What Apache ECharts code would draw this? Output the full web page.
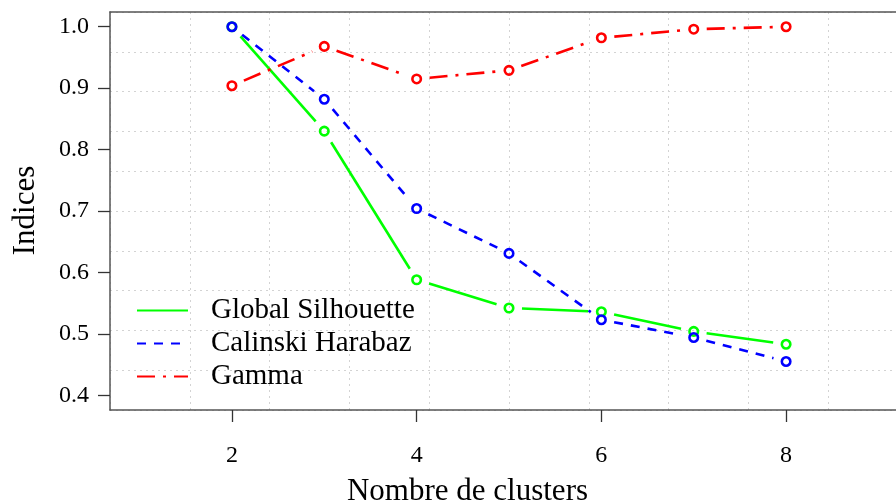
<!DOCTYPE html>
<html>
<head>
<meta charset="utf-8">
<script src="https://cdn.jsdelivr.net/npm/echarts@6/dist/echarts.min.js"></script>
<style>
  html, body { margin: 0; padding: 0; background: #fff; }
  #chart { width: 896px; height: 504px; }
</style>
</head>
<body>
<div id="chart"></div>
<script>
// Cluster validity indices against the number of clusters
var clusters = [2, 3, 4, 5, 6, 7, 8];
var silhouette = [1.0, 0.830, 0.588, 0.542, 0.536, 0.504, 0.483];
var calinski = [1.0, 0.882, 0.704, 0.631, 0.523, 0.494, 0.455];
var gamma = [0.904, 0.968, 0.915, 0.929, 0.982, 0.996, 1.0];

var xTicks = [2, 4, 6, 8];
var yTicks = [0.4, 0.5, 0.6, 0.7, 0.8, 0.9, 1.0];

var serifFont = '"Liberation Serif", "Times New Roman", serif';

var indices = [
  { name: 'Global Silhouette', values: silhouette, color: '#00ff00', dash: 'solid' },
  { name: 'Calinski Harabaz', values: calinski, color: '#0000ff', dash: [9, 8] },
  { name: 'Gamma', values: gamma, color: '#ff0000', dash: [18, 8, 3, 8] }
];

// Segments between consecutive points; each is drawn with a gap at both ends
function segmentsOf(values) {
  var out = [];
  for (var i = 0; i + 1 < clusters.length; i++) {
    out.push([clusters[i], values[i], clusters[i + 1], values[i + 1]]);
  }
  return out;
}

var GAP = 13;
function segmentRenderer(color, dash) {
  return function (params, api) {
    var p0 = api.coord([api.value(0), api.value(1)]);
    var p1 = api.coord([api.value(2), api.value(3)]);
    var dx = p1[0] - p0[0], dy = p1[1] - p0[1];
    var len = Math.sqrt(dx * dx + dy * dy);
    if (len <= 2 * GAP) return null;
    var ux = dx / len, uy = dy / len;
    return {
      type: 'line',
      shape: {
        x1: p0[0] + ux * GAP, y1: p0[1] + uy * GAP,
        x2: p1[0] - ux * GAP, y2: p1[1] - uy * GAP
      },
      style: {
        stroke: color,
        lineWidth: 2.6,
        lineDash: dash === 'solid' ? null : dash,
        fill: null
      }
    };
  };
}

var series = [];
indices.forEach(function (ind) {
  series.push({
    type: 'custom',
    xAxisIndex: 0,
    yAxisIndex: 0,
    renderItem: segmentRenderer(ind.color, ind.dash),
    encode: { x: [0, 2], y: [1, 3] },
    data: segmentsOf(ind.values),
    silent: true
  });
  series.push({
    type: 'line',
    name: ind.name,
    xAxisIndex: 0,
    yAxisIndex: 0,
    data: clusters.map(function (c, i) { return [c, ind.values[i]]; }),
    symbol: 'circle',
    symbolSize: 8.5,
    showAllSymbol: true,
    itemStyle: { color: 'rgba(0,0,0,0)', borderColor: ind.color, borderWidth: 2.6 },
    lineStyle: { color: ind.color, width: 2.6, type: ind.dash, opacity: 0 },
    emphasis: { disabled: true },
    silent: true
  });
});

var chart = echarts.init(document.getElementById('chart'), null, { renderer: 'canvas' });
chart.setOption({
  animation: false,
  backgroundColor: '#ffffff',
  // the plot box runs past the right edge of the canvas
  grid: {
    left: 110, top: 12, right: -12, bottom: 94,
    containLabel: false,
    outerBoundsMode: 'none'
  },
  xAxis: [
    {
      type: 'value',
      min: 0.68,
      max: 9.32,
      position: 'bottom',
      axisLine: { show: true, onZero: false, lineStyle: { color: '#555', width: 1.5 } },
      axisTick: { show: true, customValues: xTicks, length: 12, lineStyle: { color: '#333', width: 1.3 } },
      axisLabel: { customValues: xTicks, margin: 34, color: '#000', fontSize: 24, fontFamily: serifFont },
      splitLine: { show: false }
    },
    {
      type: 'value',
      min: 0,
      max: 10,
      interval: 1,
      position: 'top',
      axisLine: { show: true, onZero: false, lineStyle: { color: '#555', width: 1.5 } },
      axisTick: { show: false },
      axisLabel: { show: false },
      splitLine: { show: true, lineStyle: { color: '#d3d3d3', width: 1, type: [2, 4] } }
    }
  ],
  yAxis: [
    {
      type: 'value',
      min: 0.376,
      max: 1.024,
      position: 'left',
      axisLine: { show: true, onZero: false, lineStyle: { color: '#555', width: 1.5 } },
      axisTick: { show: true, customValues: yTicks, length: 12, lineStyle: { color: '#333', width: 1.3 } },
      axisLabel: {
        customValues: yTicks, margin: 21, color: '#000', fontSize: 24, fontFamily: serifFont,
        formatter: function (v) { return v.toFixed(1); }
      },
      splitLine: { show: false }
    },
    {
      type: 'value',
      min: 0,
      max: 10,
      interval: 1,
      position: 'right',
      axisLine: { show: true, onZero: false, lineStyle: { color: '#555', width: 1.5 } },
      axisTick: { show: false },
      axisLabel: { show: false },
      splitLine: { show: true, lineStyle: { color: '#d3d3d3', width: 1, type: [2, 4] } }
    }
  ],
  legend: {
    orient: 'vertical',
    left: 136,
    top: 296,
    data: indices.map(function (d) { return d.name; }),
    itemWidth: 51,
    itemHeight: 14,
    itemGap: 4,
    selectedMode: false,
    padding: 0,
    itemStyle: { opacity: 0 },
    lineStyle: { opacity: 1 },
    textStyle: { fontSize: 29, fontFamily: serifFont, color: '#000', padding: [0, 0, 0, 18] }
  },
  graphic: [
    {
      type: 'text',
      x: 467.5,
      y: 491.5,
      silent: true,
      style: {
        text: 'Nombre de clusters',
        font: '31px ' + serifFont,
        fill: '#000',
        align: 'center', verticalAlign: 'middle',
        textAlign: 'center', textVerticalAlign: 'middle'
      }
    },
    {
      type: 'text',
      x: 25.5,
      y: 210.5,
      rotation: Math.PI / 2,
      silent: true,
      style: {
        text: 'Indices',
        font: '31px ' + serifFont,
        fill: '#000',
        align: 'center', verticalAlign: 'middle',
        textAlign: 'center', textVerticalAlign: 'middle'
      }
    }
  ],
  series: series
});
</script>
</body>
</html>
